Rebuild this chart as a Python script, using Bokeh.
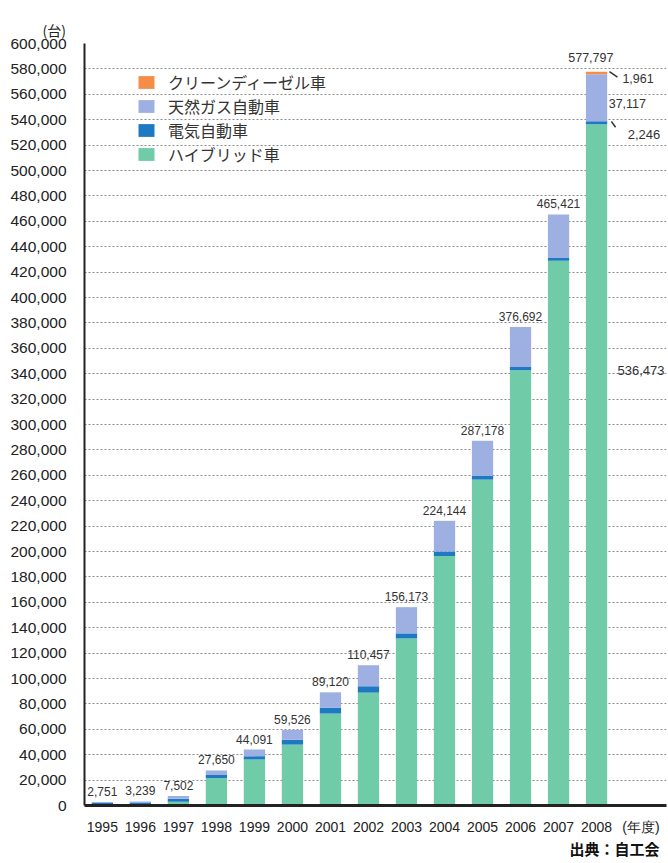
from bokeh.plotting import figure
from bokeh.models import (ColumnDataSource, Range1d, FixedTicker, Legend, LegendItem,
                          Label, NumeralTickFormatter, Title)
from bokeh.core.properties import value
from bokeh.embed import file_html
from bokeh.resources import INLINE

# ---------------- data ----------------
years = [1995, 1996, 1997, 1998, 1999, 2000, 2001, 2002, 2003, 2004, 2005, 2006, 2007, 2008]
hybrid = [0, 0, 3009, 21610, 36239, 47915, 72408, 88896, 131535, 196469, 256573, 342730, 428885, 536473]
electric = [2051, 2028, 2400, 2400, 2600, 3800, 4700, 5000, 4000, 3500, 3000, 2500, 2300, 2246]
natural_gas = [700, 1211, 2093, 3640, 5252, 7811, 12012, 16561, 20638, 24175, 27605, 31462, 34236, 37117]
clean_diesel = [0, 0, 0, 0, 0, 0, 0, 0, 0, 0, 0, 0, 0, 1961]
totals = [2751, 3239, 7502, 27650, 44091, 59526, 89120, 110457, 156173, 224144, 287178, 376692, 465421, 577797]
total_labels = ["2,751", "3,239", "7,502", "27,650", "44,091", "59,526", "89,120", "110,457",
                "156,173", "224,144", "287,178", "376,692", "465,421", "577,797"]
series_keys = ["hybrid", "electric", "natural_gas", "clean_diesel"]
series_names = ["ハイブリッド車", "電気自動車", "天然ガス自動車", "クリーンディーゼル車"]
series_colors = ["#6fcba8", "#1f78c2", "#9eb0e2", "#f58d47"]
y_ticks = list(range(0, 600001, 20000))
x_unit_label = "(年度)"
y_unit_label = "(台)"
source_note = "出典：自工会"

NUM_FONT = "Liberation Sans"
JP_FONT = "Noto Sans CJK JP"
UNIT_TICK = 2009.17  # position of the "(年度)" label on the x axis

source = ColumnDataSource(dict(year=years, hybrid=hybrid, electric=electric,
                               natural_gas=natural_gas, clean_diesel=clean_diesel))

p = figure(width=668, height=863,
           x_range=Range1d(1994.53, 2009.84), y_range=Range1d(0, 600000),
           output_backend="svg", toolbar_location=None,
           min_border_left=84, min_border_right=2, min_border_top=43, min_border_bottom=58)
p.outline_line_color = None
p.background_fill_color = "white"

# grid
p.xgrid.visible = False
p.ygrid.ticker = FixedTicker(ticks=y_ticks)
p.ygrid.grid_line_color = "#8a8a8a"
p.ygrid.grid_line_dash = "2 2"
p.ygrid.grid_line_width = 1

# axes
p.yaxis.ticker = FixedTicker(ticks=y_ticks)
p.yaxis.formatter = NumeralTickFormatter(format="0,0")
p.yaxis.major_tick_line_color = None
p.yaxis.minor_tick_line_color = None
p.yaxis.axis_line_color = "#222222"
p.yaxis.axis_line_width = 2
p.yaxis.major_label_text_font = NUM_FONT
p.yaxis.major_label_text_font_size = "15.5px"
p.yaxis.major_label_text_color = "#222222"
p.yaxis.major_label_standoff = 12

p.xaxis.ticker = FixedTicker(ticks=years + [UNIT_TICK])
p.xaxis.major_label_overrides = {UNIT_TICK: x_unit_label}
p.xaxis.major_tick_line_color = None
p.xaxis.minor_tick_line_color = None
p.xaxis.axis_line_color = "#222222"
p.xaxis.axis_line_width = 3
p.xaxis.major_label_text_font = NUM_FONT
p.xaxis.major_label_text_font_size = "14px"
p.xaxis.major_label_text_color = "#222222"
p.xaxis.major_label_standoff = 7

# bars
renderers = p.vbar_stack(series_keys, x="year", width=0.56, color=series_colors,
                         line_color=None, source=source)

# totals above bars
p.text(x=years[:-1], y=totals[:-1], text=total_labels[:-1],
       text_font=value(NUM_FONT), text_font_size="12px", text_color="#333333",
       text_align="center", text_baseline="bottom", y_offset=-6)
p.text(x=[years[-1] - 0.15], y=[totals[-1]], text=[total_labels[-1]],
       text_font=value(NUM_FONT), text_font_size="12.5px", text_color="#333333",
       text_align="center", text_baseline="bottom", y_offset=-10)

# 2008 breakdown annotations
last = len(years) - 1
ev_top = hybrid[last] + electric[last]
ngv_mid = ev_top + natural_gas[last] / 2
p.segment(x0=[years[last] + 0.34, years[last] + 0.39],
          y0=[totals[last], ev_top],
          x1=[years[last] + 0.55, years[last] + 0.50],
          y1=[totals[last] - 4200, ev_top - 4700],
          line_color="#333333", line_width=1.5)


def add_label(x, y, text, size="12.5px", font=NUM_FONT, align="left", color="#333333"):
    p.add_layout(Label(x=x, y=y, text=text, text_font=font, text_font_size=size,
                       text_color=color, text_align=align, text_baseline="middle"))


add_label(years[last] + 0.68, totals[last] - 5500, f"{clean_diesel[last]:,}")
add_label(years[last] + 0.32, ngv_mid - 4500, f"{natural_gas[last]:,}")
add_label(years[last] + 0.82, ev_top - 10500, f"{electric[last]:,}", size="13px")
add_label(years[last] + 0.55, 342500, f"{hybrid[last]:,}", size="13px")

# unit label (top-left) and source note (bottom-right)
p.add_layout(Title(text=y_unit_label, align="left", offset=-42, standoff=8,
                   text_font=JP_FONT, text_font_size="14px", text_font_style="normal",
                   text_color="#222222"), "above")
p.add_layout(Title(text=source_note, align="right", offset=7, standoff=0,
                   vertical_align="top",
                   text_font=JP_FONT, text_font_size="15px", text_font_style="bold",
                   text_color="#111111"), "below")

# legend
items = [LegendItem(label=series_names[i], renderers=[renderers[i]]) for i in [3, 2, 1, 0]]
legend = Legend(items=items, location=(52, 639), orientation="vertical",
                glyph_width=20, glyph_height=16, label_height=16, spacing=0,
                padding=0, margin=0, label_standoff=12,
                border_line_color=None, background_fill_alpha=0,
                label_text_font=JP_FONT, label_text_font_size="16px",
                label_text_color="#333333")
p.add_layout(legend)

open("out.html", "w").write(file_html(p, INLINE))
